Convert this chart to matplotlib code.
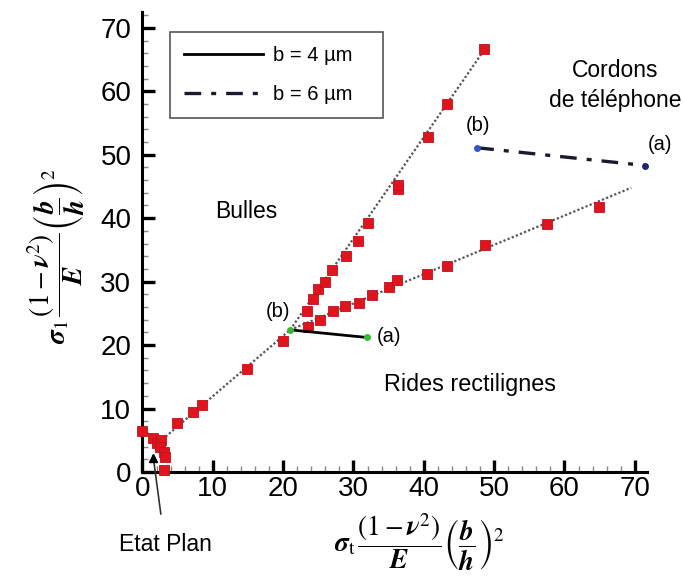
import matplotlib
matplotlib.use("Agg")
import matplotlib.pyplot as plt
import matplotlib.ticker as ticker

plt.rcParams["font.family"] = ["Liberation Sans", "DejaVu Sans"]
plt.rcParams["mathtext.fontset"] = "stix"

# Red squares (measured points)
pts_x = [0.0, 1.5, 2.0, 2.7, 2.5, 3.0, 3.2, 3.0, 4.9, 7.2, 8.4, 14.8, 20.0,
         23.4, 24.3, 25.0, 26.0, 26.9, 28.9, 30.6, 32.1, 36.3, 36.3, 40.6, 43.3, 48.6,
         23.6, 25.2, 27.1, 28.8, 30.8, 32.6, 35.0, 36.2, 40.4, 43.3, 48.7, 57.5, 64.9]
pts_y = [6.5, 5.3, 4.6, 5.0, 3.9, 3.2, 2.4, 0.3, 7.7, 9.5, 10.6, 16.2, 20.6,
         25.3, 27.2, 28.8, 30.0, 31.8, 34.0, 36.4, 39.2, 44.6, 45.3, 52.8, 58.0, 66.6,
         22.9, 24.0, 25.3, 26.1, 26.7, 27.9, 29.2, 30.2, 31.2, 32.5, 35.8, 39.1, 41.8]

# Dotted fit lines
fit_common_x = [0.0, 2.7, 21.0]
fit_common_y = [6.5, 5.0, 22.4]
fit_upper_x = [21.0, 48.9]
fit_upper_y = [22.4, 67.0]
fit_lower_x = [21.0, 69.5]
fit_lower_y = [22.4, 44.8]

# b = 4 um path (b) -> (a)
b4_x = [21.0, 31.9]
b4_y = [22.4, 21.2]
# b = 6 um path (b) -> (a)
b6_x = [47.6, 71.5]
b6_y = [51.1, 48.3]

# Etat plan point
plan_x = [1.45]
plan_y = [2.2]

fig = plt.figure(figsize=(6.83, 5.76), dpi=100)
ax = fig.add_axes([0.2086, 0.1806, 0.7383, 0.7986])

ax.plot(fit_common_x, fit_common_y, color="#555555", lw=1.6, ls=(0, (1, 1)), zorder=2, clip_on=False)
ax.plot(fit_upper_x, fit_upper_y, color="#555555", lw=1.6, ls=(0, (1, 1)), zorder=2)
ax.plot(fit_lower_x, fit_lower_y, color="#555555", lw=1.6, ls=(0, (1, 1)), zorder=2)

ax.plot(pts_x, pts_y, ls="none", marker="s", ms=7.5, mfc="#e0141e", mec="#c01018",
        mew=0.6, zorder=3, clip_on=False)

l4, = ax.plot(b4_x, b4_y, color="black", lw=2.0, zorder=4, label="b = 4 µm   ")
ax.plot(b4_x, b4_y, ls="none", marker="o", ms=4, color="#33bb33", zorder=5)
l6, = ax.plot(b6_x, b6_y, color="#1a1a2e", lw=2.4, ls=(0, (5, 3, 1.5, 3)), zorder=4,
              label="b = 6 µm   ", clip_on=False)
ax.plot(b6_x[:1], b6_y[:1], ls="none", marker="o", ms=4, color="#3355cc", zorder=5)
ax.plot(b6_x[1:], b6_y[1:], ls="none", marker="o", ms=4, color="#1a2a6a", zorder=5, clip_on=False)

ax.plot(plan_x, plan_y, ls="none", marker="^", ms=6, color="black", zorder=5)

ax.set_xlim(0, 71.7)
ax.set_ylim(0, 72.5)

for s in ["top", "right"]:
    ax.spines[s].set_visible(False)
for s in ["left", "bottom"]:
    ax.spines[s].set_linewidth(2.2)

ax.xaxis.set_major_locator(ticker.MultipleLocator(10))
ax.yaxis.set_major_locator(ticker.MultipleLocator(10))
ax.xaxis.set_minor_locator(ticker.MultipleLocator(2))
ax.yaxis.set_minor_locator(ticker.MultipleLocator(2))
ax.tick_params(which="major", direction="in", length=9, width=2.4, labelsize=20)
ax.tick_params(which="minor", direction="in", length=4, width=1, color="#888888")
ax.tick_params(axis="y", which="major", pad=8)
ax.tick_params(axis="x", which="major", pad=3)

leg = ax.legend(handles=[l4, l6], loc="upper left", bbox_to_anchor=(0.055, 0.957),
                borderaxespad=0, fontsize=14.5, handlelength=3.9, handletextpad=0.5,
                labelspacing=1.0, borderpad=0.7, fancybox=False, framealpha=1)
leg.get_frame().set_edgecolor("#555555")
leg.get_frame().set_linewidth(1.2)

ax.text(67.2, 63.3, "Cordons", ha="center", va="center", fontsize=16.5, clip_on=False)
ax.text(67.2, 58.5, "de téléphone", ha="center", va="center", fontsize=16.5, clip_on=False)
ax.text(47.7, 54.6, "(b)", ha="center", va="center", fontsize=14.5)
ax.text(73.6, 51.6, "(a)", ha="center", va="center", fontsize=14.5, clip_on=False)
ax.text(14.7, 41.0, "Bulles", ha="center", va="center", fontsize=16.5)
ax.text(19.3, 25.3, "(b)", ha="center", va="center", fontsize=14.5)
ax.text(35.0, 21.4, "(a)", ha="center", va="center", fontsize=14.5)
ax.text(46.6, 13.8, "Rides rectilignes", ha="center", va="center", fontsize=16.8)

ax.annotate("Etat Plan", xy=(1.5, 2.6), xytext=(3.2, -11.5), ha="center", va="center",
            fontsize=16.5, annotation_clip=False,
            arrowprops=dict(arrowstyle="-", color="#333333", lw=1.2, shrinkA=12, shrinkB=0))

label_expr = (r"\,\dfrac{(1-\boldsymbol{\nu}^{2})}{\boldsymbol{E}}"
              r"\left(\dfrac{\boldsymbol{b}}{\boldsymbol{h}}\right)^{2}$")
fig.text(420 / 683, 1 - 542 / 576, r"$\boldsymbol{\sigma}_{\mathrm{t}}" + label_expr,
         ha="center", va="center", fontsize=19.5)
fig.text(56 / 683, 1 - 256 / 576, r"$\boldsymbol{\sigma}_{\mathrm{1}}" + label_expr,
         ha="center", va="center", fontsize=19.5, rotation=90)

fig.savefig("out.png", dpi=100, facecolor="white")
